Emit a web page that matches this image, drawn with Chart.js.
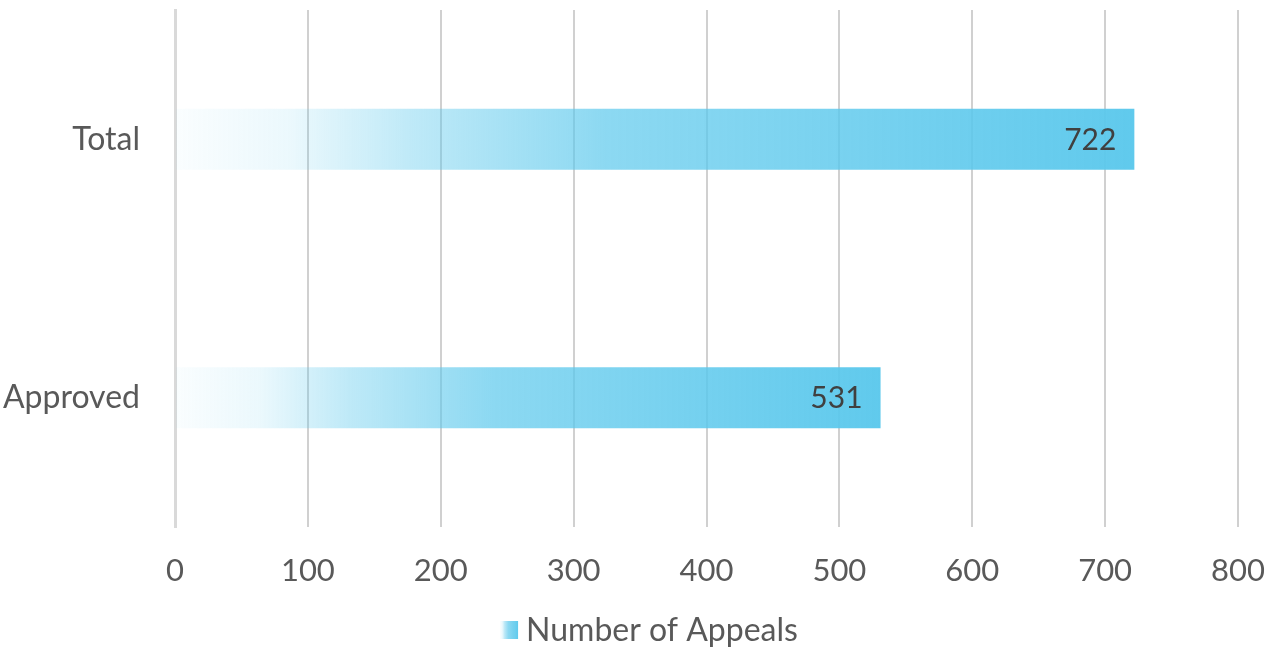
<!DOCTYPE html>
<html>
<head>
<meta charset="utf-8">
<script src="https://cdn.jsdelivr.net/npm/chart.js@4"></script>
<style>
  html, body { margin: 0; padding: 0; background: #ffffff; }
  #wrap { width: 1268px; height: 647px; position: relative; }
</style>
</head>
<body>
<div id="wrap"><canvas id="c" width="1268" height="647"></canvas></div>
<script>
const categories = ["Total", "Approved"];
const appeals = [722, 531];
const seriesName = "Number of Appeals";
const xTicks = [0, 100, 200, 300, 400, 500, 600, 700, 800];

const RGB = "91,200,236";
function addStops(g) {
  g.addColorStop(0.0, "rgba(" + RGB + ",0.03)");
  g.addColorStop(0.12, "rgba(" + RGB + ",0.12)");
  g.addColorStop(0.25, "rgba(" + RGB + ",0.40)");
  g.addColorStop(0.45, "rgba(" + RGB + ",0.70)");
  g.addColorStop(1.0, "rgba(" + RGB + ",0.97)");
  return g;
}

const FONT = "Lato, 'Open Sans', sans-serif";
const PAD_RIGHT = 30;
const LEGEND_SPACE = 40;

const valueLabels = {
  id: "valueLabels",
  afterDatasetsDraw(chart) {
    const ctx = chart.ctx;
    const meta = chart.getDatasetMeta(0);
    ctx.save();
    ctx.font = "30px " + FONT;
    ctx.fillStyle = "#404040";
    ctx.textAlign = "right";
    ctx.textBaseline = "middle";
    meta.data.forEach((el, i) => {
      ctx.fillText(String(appeals[i]), el.x - 18, el.y + 1);
    });
    ctx.restore();
  }
};

const bottomLegend = {
  id: "bottomLegend",
  afterDraw(chart) {
    const ctx = chart.ctx;
    const label = chart.data.datasets[0].label;
    ctx.save();
    ctx.font = "32px " + FONT;
    const tw = ctx.measureText(label).width;
    const box = 18, gap = 8;
    const total = box + gap + tw;
    const cx = (chart.width + PAD_RIGHT) / 2;
    const x0 = cx - total / 2;
    const cy = chart.height - 17;
    const g = addStops(ctx.createLinearGradient(x0, 0, x0 + box, 0));
    ctx.fillStyle = g;
    ctx.fillRect(x0, cy - box / 2, box, box);
    ctx.fillStyle = "#595959";
    ctx.textAlign = "left";
    ctx.textBaseline = "middle";
    ctx.fillText(label, x0 + box + gap, cy + 1);
    ctx.restore();
  }
};

function noPad(scale) {
  scale.paddingTop = 0; scale.paddingBottom = 0;
  scale.paddingLeft = 0; scale.paddingRight = 0;
}

new Chart(document.getElementById("c"), {
  type: "bar",
  data: {
    labels: categories,
    datasets: [{
      label: seriesName,
      data: appeals,
      backgroundColor(context) {
        const chart = context.chart;
        const area = chart.chartArea;
        const xs = chart.scales && chart.scales.x;
        if (!area || !xs || context.raw == null) return "rgba(" + RGB + ",0.8)";
        const x0 = xs.getPixelForValue(0);
        const x1 = xs.getPixelForValue(context.raw);
        return addStops(chart.ctx.createLinearGradient(x0, 0, x1, 0));
      },
      borderWidth: 0,
      categoryPercentage: 0.236,
      barPercentage: 1.0
    }]
  },
  options: {
    indexAxis: "y",
    responsive: false,
    animation: false,
    layout: { padding: { left: 0, right: PAD_RIGHT, top: 10, bottom: LEGEND_SPACE } },
    scales: {
      x: {
        min: 0, max: 800,
        afterBuildTicks(scale) { scale.ticks = xTicks.map(v => ({ value: v })); },
        grid: { color: "#d0d0d0", lineWidth: 2, drawTicks: false },
        border: { display: false },
        ticks: { color: "#595959", font: { size: 31, family: FONT }, padding: 25, maxRotation: 0 },
        afterFit(scale) { scale.height = 80; noPad(scale); }
      },
      y: {
        grid: { display: false },
        border: { color: "#d9d9d9", width: 3 },
        ticks: { color: "#595959", font: { size: 32, family: FONT }, padding: 27 },
        afterFit(scale) { scale.width = 175; noPad(scale); }
      }
    },
    plugins: {
      legend: { display: false },
      tooltip: { enabled: false }
    }
  },
  plugins: [valueLabels, bottomLegend]
});
</script>
</body>
</html>
